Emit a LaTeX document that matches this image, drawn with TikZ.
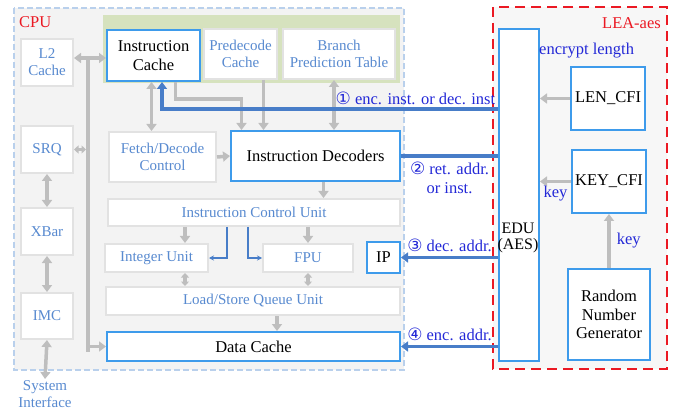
\documentclass[tikz,border=0pt]{standalone}
\usepackage{fontspec}
\setmainfont{Liberation Serif}
\newfontfamily\circfont{DejaVu Sans}
\usetikzlibrary{positioning, arrows.meta, backgrounds, calc}
\definecolor{cpugray}{RGB}{243, 243, 243}
\definecolor{leagray}{RGB}{247, 247, 247}
\definecolor{panelgreen}{RGB}{214, 226, 190}
\definecolor{edgeblue}{RGB}{62, 155, 235}
\definecolor{unitblue}{RGB}{88, 138, 208}
\definecolor{linkblue}{RGB}{72, 125, 200}
\definecolor{labelblue}{RGB}{35, 40, 215}
\definecolor{busgray}{RGB}{190, 190, 190}
\definecolor{framegray}{RGB}{226, 226, 226}
\definecolor{dashblue}{RGB}{185, 208, 236}
\definecolor{leared}{RGB}{235, 25, 35}
\newcommand{\circnum}[1]{{\circfont\fontsize{17}{17}\selectfont #1}}

\begin{document}
\begin{tikzpicture}[
    x=1pt, y=-1pt, % one unit = one pixel of the sketch, y pointing down
    unit/.style={ % pale boxes inside the CPU
        rectangle,
        draw=framegray,
        line width=2pt,
        fill=white,
        text=unitblue,
        font=\fontsize{15}{17}\selectfont,
        align=center,
        anchor=north west,
        inner sep=0pt
    },
    keyunit/.style={ % blue framed boxes
        unit,
        draw=edgeblue,
        text=black,
        font=\fontsize{16.5}{18.5}\selectfont
    },
    % gray arrows
    bus/.style={draw=busgray, line width=3.5pt},
    busarrow/.style={bus, -{Triangle[width=10pt, length=7pt]}},
    busboth/.style={bus, {Triangle[width=10pt, length=7pt]}-{Triangle[width=10pt, length=7pt]}},
    shortboth/.style={bus, {Triangle[width=8pt, length=4.5pt]}-{Triangle[width=8pt, length=4.5pt]}},
    % blue links to the EDU
    link/.style={draw=linkblue, line width=3.5pt, -{Triangle[width=10pt, length=7pt]}},
    thinlink/.style={draw=linkblue, line width=1.1pt, -{Stealth[width=5pt, length=5pt]}},
    label_text/.style={text=labelblue, font=\fontsize{16.5}{19}\selectfont, align=center, inner sep=1pt}
]

\useasboundingbox (0,0) rectangle (680,414);

% Frames
\filldraw[fill=cpugray, draw=dashblue, line width=1.3pt, dash pattern=on 6pt off 3pt] (14,8) rectangle (404,370);
\filldraw[fill=leagray, draw=leared, line width=2.6pt, dash pattern=on 10pt off 6pt] (493,7) rectangle (667,369);
\fill[panelgreen] (103,15) rectangle (400,83);
\node[text=leared, font=\fontsize{16.5}{18}\selectfont, anchor=west, inner sep=0pt] (cpu) at (19,22) {CPU};
\node[text=leared, font=\fontsize{16.5}{18}\selectfont, anchor=east, inner sep=0pt] (lea) at (661,23) {LEA-aes};

% Left column
\node[unit, minimum width=52pt, minimum height=47pt] (l2) at (20,38) {L2\\Cache};
\node[unit, minimum width=52pt, minimum height=47pt] (srq) at (20,125) {SRQ};
\node[unit, minimum width=52pt, minimum height=47pt] (xbar) at (20,207) {XBar};
\node[unit, minimum width=52pt, minimum height=46pt] (imc) at (20,292) {IMC};
\node[label_text, text=unitblue, font=\fontsize{15}{17}\selectfont, anchor=north] (sysif) at (45,379) {System\\Interface};

% Front end
\node[keyunit, minimum width=93pt, minimum height=51pt] (icache) at (106,29) {Instruction\\Cache};
\node[unit, minimum width=73pt, minimum height=50pt] (predec) at (203,28) {Predecode\\Cache};
\node[unit, minimum width=112pt, minimum height=50pt] (bpt) at (282,28) {Branch\\Prediction Table};
\node[unit, minimum width=107pt, minimum height=50pt] (fdc) at (108,131) {Fetch/Decode\\Control};
\node[keyunit, minimum width=169pt, minimum height=50pt] (idec) at (230,130) {Instruction Decoders};

% Back end
\node[unit, minimum width=292pt, minimum height=27pt] (icu) at (107,198) {Instruction Control Unit};
\node[unit, minimum width=103pt, minimum height=28pt] (intu) at (104,243) {Integer Unit};
\node[unit, minimum width=90pt, minimum height=28pt] (fpu) at (262,243) {FPU};
\node[keyunit, minimum width=33pt, minimum height=31pt] (ip) at (366,241) {IP};
\node[unit, minimum width=294pt, minimum height=28pt] (lsq) at (105,286) {Load/Store Queue Unit};
\node[keyunit, minimum width=293pt, minimum height=29pt] (dcache) at (106,331) {Data Cache};

% LEA-aes blocks
\node[keyunit, minimum width=40pt, minimum height=332pt] (edu) at (498,28) {};
\node[font=\fontsize{16}{16}\selectfont, align=center, inner sep=0pt] (edutext) at (518,238) {EDU\\(AES)};
\node[keyunit, minimum width=74pt, minimum height=63pt] (lencfi) at (570,66) {LEN\_CFI};
\node[keyunit, minimum width=74pt, minimum height=63pt] (keycfi) at (571,149) {KEY\_CFI};
\node[keyunit, minimum width=82pt, minimum height=91pt] (rng) at (567,268) {Random\\Number\\Generator};

% Gray buses
\coordinate (bustop) at (88,58);
\coordinate (busbot) at (88,352);
\draw[busboth] (l2.east |- bustop) -- (icache.west |- bustop);
\draw[bus] (bustop) -- (busbot);
\draw[busarrow] (dcache.west -| bustop) -- (dcache.west);
\draw[shortboth] (srq.east) -- ([xshift=-2pt]srq.east -| bustop);
\draw[busboth] (srq.south) -- (xbar.north);
\draw[busboth] (xbar.south) -- (imc.north);
\draw[busboth] (imc.south) -- (sysif.north);

\draw[busboth] ([xshift=-2pt]icache.south) -- ([xshift=-2pt]icache.south |- fdc.north);
\draw[busarrow] ([xshift=22pt]icache.south) -- ++(0,17) -| ([xshift=-74pt]idec.north);
\draw[busarrow] ([xshift=23pt]predec.south) -- ([xshift=23pt]predec.south |- idec.north);
\draw[busboth] ([xshift=-5pt]bpt.south) -- ([xshift=-5pt]bpt.south |- idec.north);
\draw[busarrow] (fdc.east) -- (idec.west);
\draw[busarrow] ([xshift=8pt]idec.south) -- ([xshift=8pt]idec.south |- icu.north);
\draw[busarrow] ([xshift=-69pt]icu.south) -- ([xshift=-69pt]icu.south |- intu.north);
\draw[busarrow] (fpu.north |- icu.south) -- (fpu.north);
\draw[shortboth] ([xshift=28.5pt]intu.south) -- ([xshift=28.5pt]intu.south |- lsq.north);
\draw[shortboth] (fpu.south) -- (fpu.south |- lsq.north);
\draw[busarrow] ([xshift=24pt]lsq.south) -- ([xshift=24pt]lsq.south |- dcache.north);

% Dispatch from the control unit
\draw[thinlink] ([xshift=-27pt]icu.south) |- (intu.east);
\draw[thinlink] ([xshift=-6pt]icu.south) |- (fpu.west);

% Links with the EDU
\draw[link] ([yshift=86pt]edu.west) node[label_text, anchor=south east, yshift=2pt] (l1) {\circnum{①} enc. inst. or dec. inst} -| ([xshift=8.5pt]icache.south);
\draw[link, -] (idec.east) -- (idec.east -| edu.west) node[label_text, midway, anchor=north, yshift=-3pt] (l2txt) {\circnum{②} ret. addr.\\or inst.};
\draw[link] (ip.east -| edu.west) -- (ip.east) node[label_text, midway, anchor=south, yshift=3pt] (l3) {\circnum{③} dec. addr.};
\draw[link] (dcache.east -| edu.west) -- (dcache.east) node[label_text, midway, anchor=south, yshift=3pt] (l4) {\circnum{④} enc. addr.};

% Inside LEA-aes
\node[label_text, anchor=west] (enclen) at (538,51) {encrypt length};
\draw[busarrow] (lencfi.west) -- (lencfi.west -| edu.east);
\draw[busarrow] (keycfi.west) -- (keycfi.west -| edu.east) node[label_text, anchor=north, pos=0.5, yshift=-2pt] (key1) {key};
\draw[busarrow] (rng.north) -- (rng.north |- keycfi.south) node[label_text, midway, anchor=west, xshift=5pt] (key2) {key};

\end{tikzpicture}
\end{document}
